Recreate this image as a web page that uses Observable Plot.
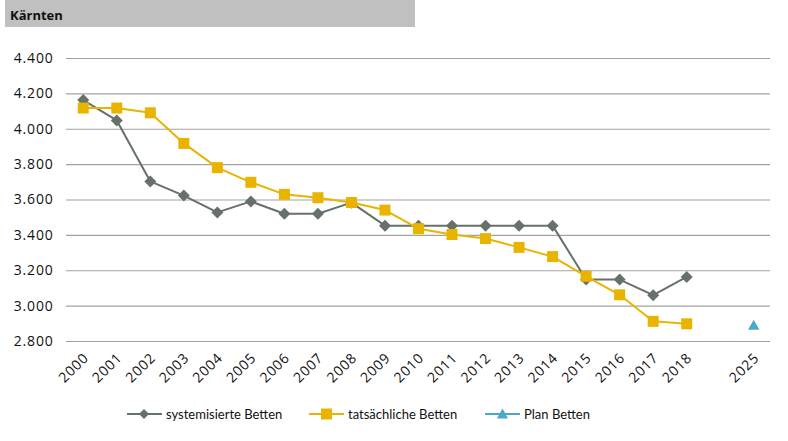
<!DOCTYPE html>
<html>
<head>
<meta charset="utf-8">
<script src="https://cdn.jsdelivr.net/npm/d3@7"></script>
<script src="https://cdn.jsdelivr.net/npm/@observablehq/plot@0.6"></script>
<style>
  body { margin: 0; background: #fff; font-family: Lato, "Open Sans", sans-serif; }
  #title { position: absolute; left: 5px; top: 0; width: 410px; height: 27px; background: #c0c0c0;
           font: bold 13px "Open Sans", Lato, sans-serif; color: #111; line-height: 30px; padding-left: 5px; box-sizing: border-box; }
  #chart { position: absolute; left: 0; top: 27px; }
  #chart svg text { letter-spacing: 0.8px; }
  #legend { position: absolute; left: 0; top: 404px; width: 788px; height: 20px; font: 13px Lato, "Open Sans", sans-serif; color: #111; }
  .item { position: absolute; top: 0; display: flex; align-items: center; height: 20px; }
  .item svg { margin-right: 4px; }
</style>
</head>
<body>
<div id="title">Kärnten</div>
<div id="chart"></div>
<div id="legend"></div>
<script>
const years = ["2000","2001","2002","2003","2004","2005","2006","2007","2008","2009","2010","2011","2012","2013","2014","2015","2016","2017","2018"];
const gapKey = "gap";
const planYears = ["2025"];
const systemisiert = [4165,4050,3705,3625,3530,3592,3522,3522,3585,3455,3455,3455,3455,3455,3455,3150,3150,3062,3165];
const tatsaechlich = [4120,4120,4093,3920,3783,3700,3632,3613,3586,3543,3438,3405,3382,3332,3280,3168,3064,2914,2900];
const plan = [2885];
const yTicks = [2800,3000,3200,3400,3600,3800,4000,4200,4400];
const seriesNames = ["systemisierte Betten","tatsächliche Betten","Plan Betten"];
const colors = ["#66716a","#e8b400","#4aa8c8"];

const xDomain = [...years, gapKey, ...planYears];
const sysData = years.map((y,i)=>({x:y, v:systemisiert[i]}));
const tatData = years.map((y,i)=>({x:y, v:tatsaechlich[i]}));
const planData = planYears.map((y,i)=>({x:y, v:plan[i]}));
const fmt = d3.formatLocale({decimal:",", thousands:".", grouping:[3], currency:["","€"]}).format(",");

const chart = Plot.plot({
  width: 788,
  height: 370,
  marginLeft: 66,
  marginRight: 18,
  marginTop: 31,
  marginBottom: 56,
  style: {fontFamily: "'Open Sans', Lato, sans-serif", fontSize: "14px", color: "#111", background: "transparent"},
  x: {type: "point", domain: xDomain, padding: 0.5, round: false, label: null},
  y: {domain: [2800, 4400], label: null},
  marks: [
    Plot.ruleY(yTicks, {stroke: "#a3a3a3", strokeWidth: 1.2}),
    Plot.axisY({ticks: yTicks, tickSize: 0, tickPadding: 13, tickFormat: fmt, fontSize: 14, label: null}),
    Plot.axisX({ticks: [...years, ...planYears], tickSize: 0, tickPadding: 14, dx: 3, tickRotate: -45, fontSize: 14, label: null}),
    Plot.line(sysData, {x: "x", y: "v", stroke: colors[0], strokeWidth: 2}),
    Plot.dot(sysData, {x: "x", y: "v", symbol: "diamond2", r: 5.4, fill: colors[0], stroke: "none"}),
    Plot.line(tatData, {x: "x", y: "v", stroke: colors[1], strokeWidth: 2}),
    Plot.dot(tatData, {x: "x", y: "v", symbol: "square2", r: 7, fill: colors[1], stroke: "none"}),
    Plot.dot(planData, {x: "x", y: "v", symbol: "triangle2", r: 5.5, fill: colors[2], stroke: "none"})
  ]
});
document.getElementById("chart").appendChild(chart);

// legend
const legend = document.getElementById("legend");
const lefts = [127, 309, 485];
const shapes = [
  '<path d="M17,5 L22,10 L17,15 L12,10 Z"/>',
  '<rect x="12" y="4.5" width="11" height="11"/>',
  '<path d="M17.5,4.5 L23,14.5 L12,14.5 Z"/>'
];
seriesNames.forEach((name, i) => {
  const div = document.createElement("div");
  div.className = "item";
  div.style.left = lefts[i] + "px";
  div.innerHTML = `<svg width="35" height="20"><line x1="0" x2="35" y1="10" y2="10" stroke="${colors[i]}" stroke-width="2"/><g fill="${colors[i]}">${shapes[i]}</g></svg><span>${name}</span>`;
  legend.appendChild(div);
});
</script>
</body>
</html>
